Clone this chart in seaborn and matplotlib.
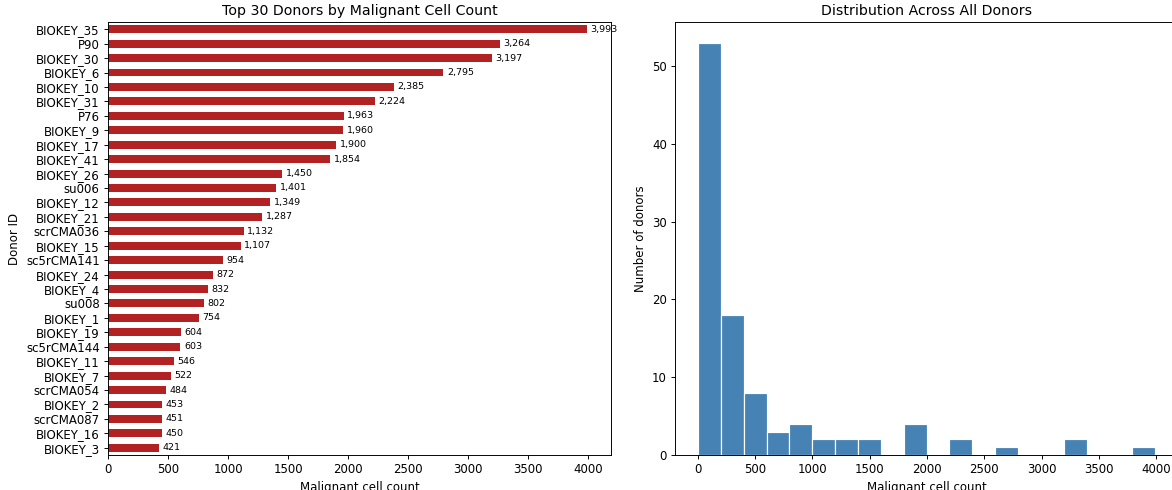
import numpy as np
import pandas as pd
import matplotlib
matplotlib.use("Agg")
import matplotlib.pyplot as plt
import seaborn as sns

# Top 30 donors by malignant cell count
donors = ["BIOKEY_35", "P90", "BIOKEY_30", "BIOKEY_6", "BIOKEY_10", "BIOKEY_31", "P76",
          "BIOKEY_9", "BIOKEY_17", "BIOKEY_41", "BIOKEY_26", "su006", "BIOKEY_12",
          "BIOKEY_21", "scrCMA036", "BIOKEY_15", "sc5rCMA141", "BIOKEY_24", "BIOKEY_4",
          "su008", "BIOKEY_1", "BIOKEY_19", "sc5rCMA144", "BIOKEY_11", "BIOKEY_7",
          "scrCMA054", "BIOKEY_2", "scrCMA087", "BIOKEY_16", "BIOKEY_3"]
cell_counts = [3993, 3264, 3197, 2795, 2385, 2224, 1963, 1960, 1900, 1854, 1450, 1401,
               1349, 1287, 1132, 1107, 954, 872, 832, 802, 754, 604, 603, 546, 522,
               484, 453, 451, 450, 421]

# Donor counts per histogram bin (20 equal bins spanning all donors)
bin_min, bin_max = 0, 3993
donors_per_bin = [53, 18, 8, 3, 4, 2, 2, 2, 0, 4, 0, 2, 0, 1, 0, 0, 2, 0, 0, 1]

DPI = 85
fig = plt.figure(figsize=(1172 / DPI, 490 / DPI), dpi=DPI)
ax1 = fig.add_axes([0.0922, 0.0714, 0.4292, 0.8837])
ax2 = fig.add_axes([0.5760, 0.0714, 0.4292, 0.8837])

# Left: horizontal bars
df = pd.DataFrame({"donor": donors, "count": cell_counts})
sns.barplot(data=df, x="count", y="donor", orient="h", color="firebrick",
            saturation=1, width=0.55, ax=ax1)
ax1.bar_label(ax1.containers[0], labels=[f"{v:,}" for v in cell_counts],
              padding=3, fontsize=8)
ax1.set_xlim(0, max(cell_counts) * 1.05)
ax1.set_ylim(len(donors) - 0.5, -0.5)
ax1.set_title("Top 30 Donors by Malignant Cell Count", fontsize=12)
ax1.set_xlabel("Malignant cell count")
ax1.set_ylabel("Donor ID")

# Right: distribution histogram
nbins = len(donors_per_bin)
edges = np.linspace(bin_min, bin_max, nbins + 1)
hist_df = pd.DataFrame({"center": (edges[:-1] + edges[1:]) / 2,
                        "donors": donors_per_bin})
sns.histplot(data=hist_df, x="center", weights="donors", bins=nbins,
             binrange=(bin_min, bin_max), color="steelblue",
             edgecolor="white", linewidth=1, alpha=1, ax=ax2)
ax2.set_xlim(bin_min - 0.05 * (bin_max - bin_min), bin_max + 0.05 * (bin_max - bin_min))
ax2.set_ylim(0, max(donors_per_bin) * 1.05)
ax2.set_xticks(np.arange(0, 4001, 500))
ax2.set_title("Distribution Across All Donors", fontsize=12)
ax2.set_xlabel("Malignant cell count")
ax2.set_ylabel("Number of donors")

fig.savefig("out.png", dpi=DPI)
